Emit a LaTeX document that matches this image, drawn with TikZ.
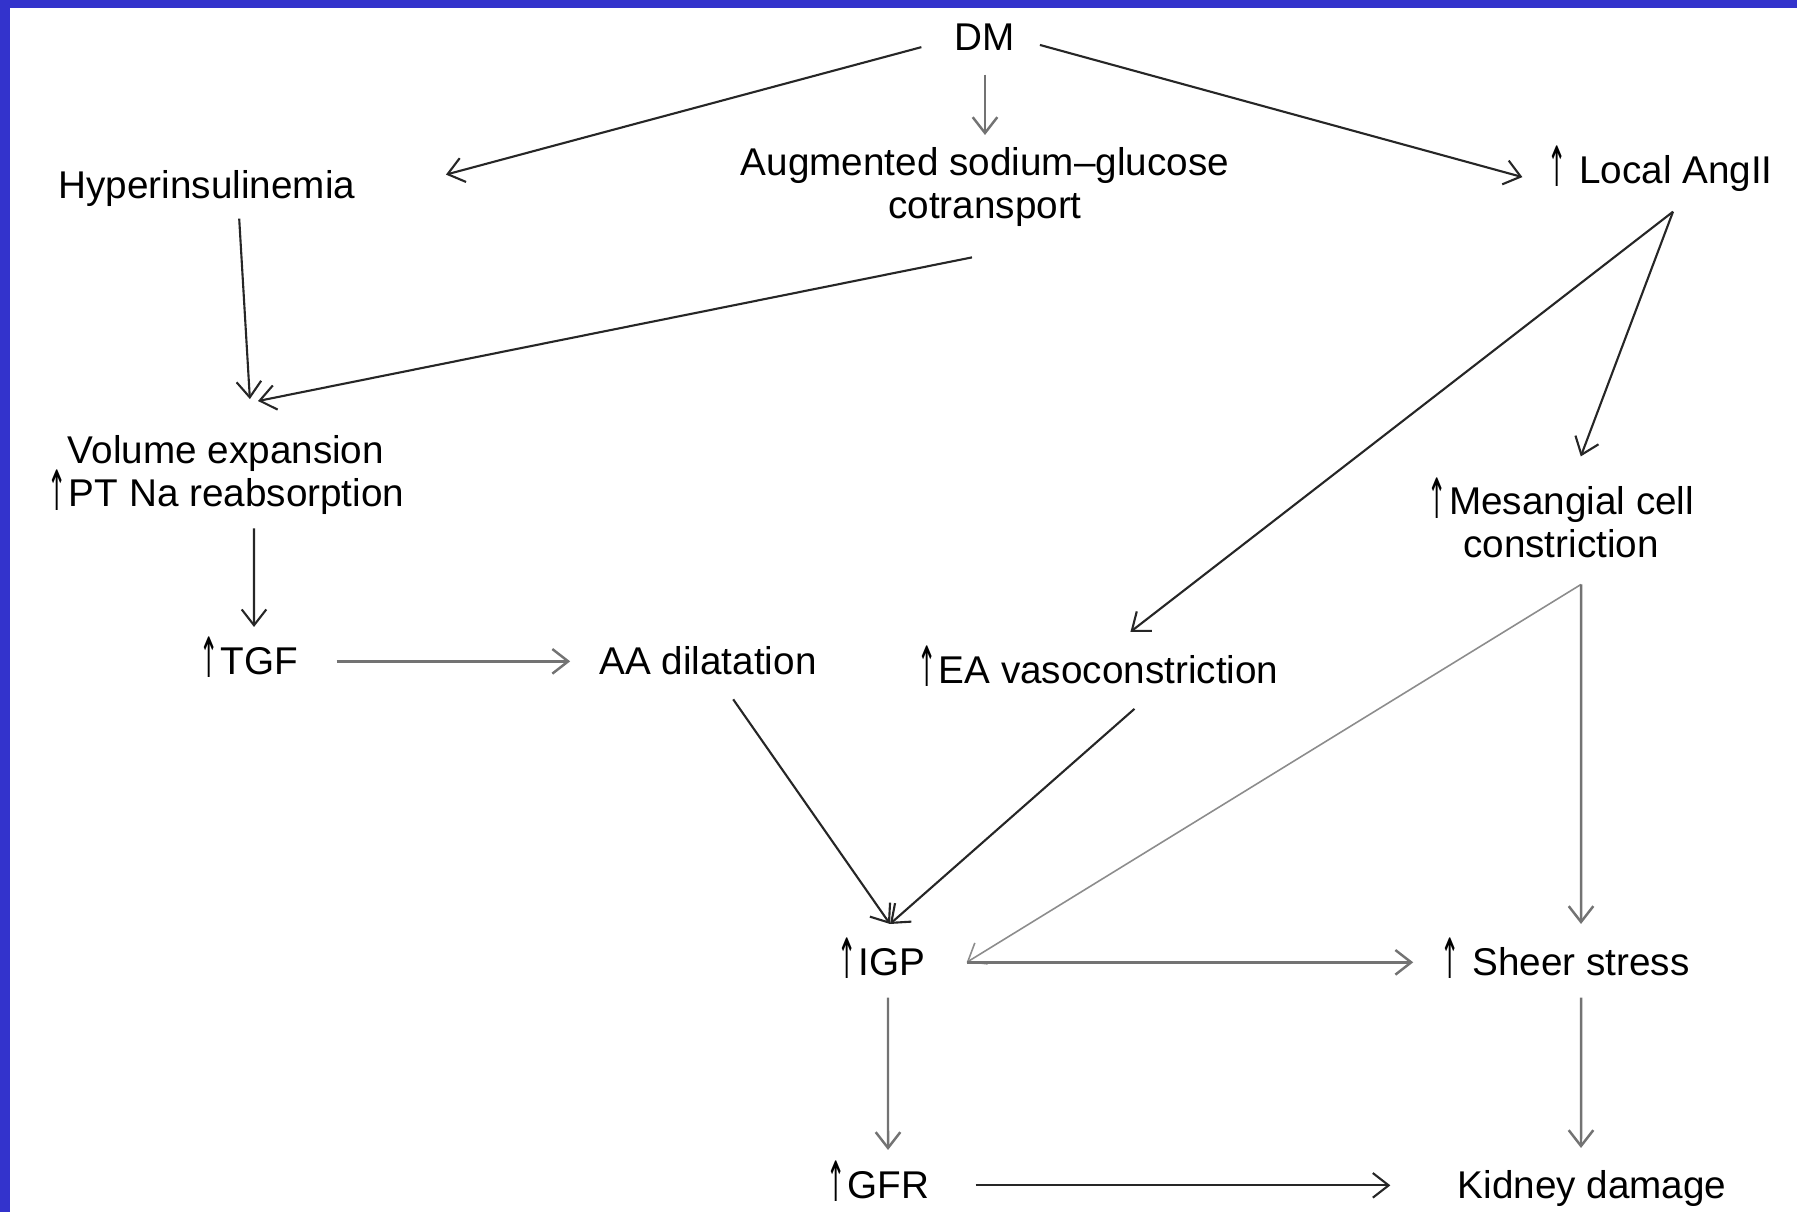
\documentclass[tikz,border=0pt]{standalone}
\usepackage{fontspec}
\usepackage{graphicx}
\setmainfont{Liberation Sans}
\newfontfamily\arrowfont{DejaVu Sans}
\usetikzlibrary{arrows.meta}
\definecolor{slideblue}{RGB}{51,51,204}
\newcommand\incr{\raisebox{-0.1em}{\resizebox*{0.5em}{1.05em}{\arrowfont ↑}}\kern0.05em}
\newcommand\labelfont{\fontsize{11}{12.2}\selectfont\lineskiplimit=-100pt\relax}

\begin{document}
\begin{tikzpicture}[
      x=0.01cm, y=-0.01cm,
      every node/.style = {inner sep=0pt, font=\labelfont},
      oneline/.style    = {text height=0.72em, text depth=0pt, anchor=base},
      twoline/.style    = {align=center, anchor=north},
      arr/.style        = {draw=black!85, line width=0.6pt, -{Straight Barb[length=4.5pt,width=7pt]}},
      arrgray/.style    = {arr, draw=black!55, line width=0.7pt},
      arrthin/.style    = {arr, draw=black!45, line width=0.45pt}
    ]
    \useasboundingbox (0,0) rectangle (1797,1212);
    \fill[slideblue] (0,0) rectangle (10,1212);
    \fill[slideblue] (0,0) rectangle (1797,8);

    \node (dm)        [oneline] at (985,51)    {DM};
    \node (hyper)     [oneline] at (207,198)   {Hyperinsulinemia};
    \node (sglt)      [twoline] at (985,147)   {Augmented sodium–glucose\\cotransport};
    \node (angii)     [oneline] at (1660,183)  {\incr\ Local AngII};
    \node (volume)    [twoline] at (226,435)   {Volume expansion\\\incr PT Na reabsorption};
    \node (tgf)       [oneline] at (249,674)   {\incr TGF};
    \node (aa)        [oneline] at (708,674)   {AA dilatation};
    \node (ea)        [oneline] at (1098,683)  {\incr EA vasoconstriction};
    \node (mesangial) [twoline] at (1561,477)  {\incr Mesangial cell\\constriction};
    \node (igp)       [oneline] at (881,975)   {\incr IGP};
    \node (sheer)     [oneline] at (1565,975)  {\incr\ Sheer stress};
    \node (gfr)       [oneline] at (878,1198)  {\incr GFR};
    \node (kidney)    [oneline] at (1592,1198) {Kidney damage};

    % top row
    \draw[arr, shorten <=0.34cm, shorten >=0.93cm]     (dm.west)  -- (hyper.south east);
    \draw[arrgray, shorten <=0.23cm, shorten >=0.12cm] (dm.south) -- (sglt.north);
    \draw[arr, shorten <=0.25cm, shorten >=0.25cm]     (dm.east)  -- (angii.south west);

    \draw[arr, shorten <=0.2cm, shorten >=0.36cm]      ([xshift=0.31cm]hyper.south)   -- ([xshift=0.26cm]volume.north);
    \draw[arr]                                         ([shift={(-13,30)}]sglt.south) -- ([shift={(32,-34)}]volume.north);
    \draw[arr, shorten <=0.13cm, shorten >=0.21cm]     ([xshift=0.28cm]volume.south)  -- ([xshift=0.05cm]tgf.north);
    \draw[arrgray, shorten <=0.375cm, shorten >=0.285cm] (tgf.east) -- (aa.west);

    % AngII branch
    \draw[arr, shorten >=0.41cm] ([shift={(13,28)}]angii.south) -- (ea.north);
    \draw[arr, shorten >=0.22cm] ([shift={(13,28)}]angii.south) -- ([xshift=0.12cm]mesangial.north);

    \draw[arr, shorten <=0.3cm]  ([xshift=0.08cm]aa.south) -- ([shift={(9,-25)}]igp.north);
    \draw[arr, shorten <=0.38cm] ([xshift=0.65cm]ea.south) -- ([shift={(9,-25)}]igp.north);
    \draw[arrthin]                      ([shift={(20,26)}]mesangial.south) -- ([xshift=0.41cm]igp.east);
    \draw[arrgray, shorten >=0.25cm]    ([shift={(20,26)}]mesangial.south) -- ([xshift=0.16cm]sheer.north);

    % bottom
    \draw[arrgray, shorten <=0.41cm, shorten >=0.265cm] (igp.east) -- (sheer.west);
    \draw[arrgray, shorten <=0.22cm, shorten >=0.22cm]  ([xshift=0.07cm]igp.south)   -- ([xshift=0.10cm]gfr.north);
    \draw[arrgray, shorten <=0.22cm, shorten >=0.24cm]  ([xshift=0.16cm]sheer.south) -- ([xshift=-0.11cm]kidney.north);
    \draw[arr, shorten <=0.455cm, shorten >=0.665cm]    (gfr.east) -- (kidney.west);

  \end{tikzpicture}
\end{document}
